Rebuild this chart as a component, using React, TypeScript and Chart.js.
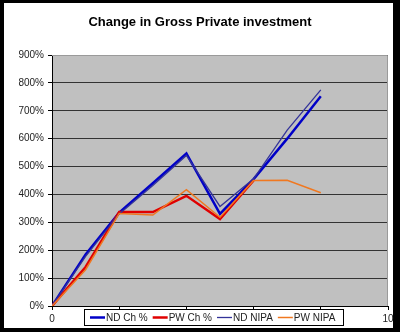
import React, { useEffect, useRef } from "react";
import { Chart, registerables } from "chart.js";

Chart.register(...registerables);

const TITLE = "Change in Gross Private investment";
const xValues = [0, 1, 2, 3, 4, 5, 6, 7, 8];
const ndCh = [0, 185, 335, 440, 547, 330, 455, 600, 752];
const pwCh = [0, 140, 337, 337, 395, 312, 450];
const ndNipa = [0, 178, 330, 432, 540, 357, 456, 631, 775];
const pwNipa = [0, 130, 332, 326, 417, 318, 450, 451, 406];
const seriesLabels = ["ND Ch %", "PW Ch %", "ND NIPA", "PW NIPA"];
const seriesColors = ["#0000c8", "#e00000", "#333399", "#f07820"];
const seriesWidths = [2.5, 2.5, 1.3, 1.5];

const FONT = "Arial, 'Liberation Sans', sans-serif";

const pts = (arr: number[]) => arr.map((v, i) => ({ x: xValues[i], y: v }));

const framePlugin = {
  id: "frame",
  beforeDraw(chart: any) {
    const { ctx, chartArea: a, width, height } = chart;
    ctx.save();
    ctx.fillStyle = "#000";
    ctx.fillRect(0, 0, width, height);
    ctx.fillStyle = "#fff";
    ctx.fillRect(4, 3, 389, 325);
    ctx.fillStyle = "#c0c0c0";
    ctx.fillRect(a.left, a.top, a.right - a.left, a.bottom - a.top);
    ctx.fillStyle = "#000";
    ctx.font = `bold 13px ${FONT}`;
    ctx.textAlign = "center";
    ctx.textBaseline = "middle";
    ctx.fillText(TITLE, 200, 22);
    ctx.restore();
  },
  afterDraw(chart: any) {
    const { ctx, chartArea: a } = chart;
    ctx.save();
    ctx.strokeStyle = "#9a9a9a";
    ctx.lineWidth = 1;
    ctx.beginPath();
    ctx.moveTo(a.left, a.top + 0.5);
    ctx.lineTo(a.right - 0.5, a.top + 0.5);
    ctx.lineTo(a.right - 0.5, a.bottom);
    ctx.stroke();
    // legend
    const bx = 84, by = 309, bw = 260, bh = 17;
    ctx.fillStyle = "#fff";
    ctx.fillRect(bx, by, bw, bh);
    ctx.strokeStyle = "#000";
    ctx.lineWidth = 1;
    ctx.strokeRect(bx + 0.5, by + 0.5, bw - 1, bh - 1);
    ctx.font = `10px ${FONT}`;
    ctx.textBaseline = "middle";
    ctx.textAlign = "left";
    let x = 90;
    const cy = by + bh / 2;
    chart.data.datasets.forEach((ds: any) => {
      ctx.strokeStyle = ds.borderColor;
      ctx.lineWidth = ds.borderWidth;
      ctx.beginPath();
      ctx.moveTo(x, cy);
      ctx.lineTo(x + 15, cy);
      ctx.stroke();
      ctx.fillStyle = "#222";
      ctx.fillText(ds.label, x + 16, cy + 0.5);
      x += 16 + ctx.measureText(ds.label).width + 5;
    });
    ctx.restore();
  },
};

export default function App() {
  const ref = useRef<HTMLCanvasElement>(null);
  useEffect(() => {
    if (!ref.current) return;
    const seriesData = [ndCh, pwCh, ndNipa, pwNipa];
    const chart = new Chart(ref.current, {
      type: "scatter",
      data: {
        datasets: seriesData.map((arr, i) => ({
          label: seriesLabels[i],
          data: pts(arr),
          showLine: true,
          borderColor: seriesColors[i],
          backgroundColor: seriesColors[i],
          borderWidth: seriesWidths[i],
          pointRadius: 0,
          tension: 0,
          order: 4 - i,
        })),
      },
      options: {
        responsive: false,
        animation: false,
        layout: { padding: { left: 4, top: 55, right: 12, bottom: 6 } },
        plugins: { legend: { display: false }, title: { display: false }, tooltip: { enabled: false } },
        scales: {
          x: {
            type: "linear",
            min: 0,
            max: 10,
            afterFit: (s: any) => { s.height = 20; },
            ticks: { stepSize: 2, color: "#222", font: { size: 10, family: FONT }, padding: 3, maxRotation: 0 },
            grid: { drawOnChartArea: false, drawTicks: true, tickLength: 4, tickColor: "#000" },
            border: { color: "#000", width: 1 },
          },
          y: {
            type: "linear",
            min: 0,
            max: 900,
            afterFit: (s: any) => { s.width = 48; },
            ticks: { stepSize: 100, color: "#222", font: { size: 10, family: FONT }, padding: 4, callback: (v: any) => `${v}%` },
            grid: { color: "#333", lineWidth: 1, drawTicks: true, tickLength: 4, tickColor: "#000" },
            border: { color: "#000", width: 1 },
          },
        },
      },
      plugins: [framePlugin],
    });
    return () => chart.destroy();
  }, []);
  return (
    <div style={{ position: "fixed", left: 0, top: 0, width: 400, height: 332 }}>
      <canvas ref={ref} width={400} height={332} />
    </div>
  );
}
